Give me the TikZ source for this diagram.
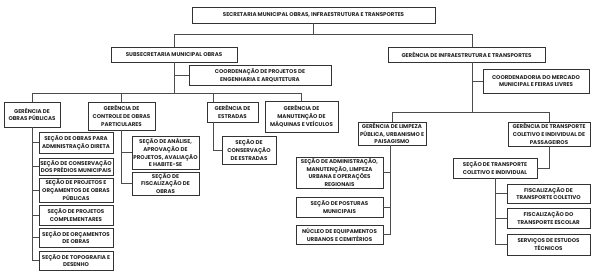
\documentclass[tikz,border=0pt]{standalone}
\usepackage{fontspec}
\setmainfont{Poppins}
\usepackage{xcolor}
\usepackage{tikz}
\usetikzlibrary{shadows}

\begin{document}
\begin{tikzpicture}[
    x=1pt, y=-1pt,
    unit/.style={rectangle, draw=black!80, line width=0.7pt, fill=white, align=center, inner sep=0.3pt,
        font=\fontsize{5.5}{7.8}\selectfont\bfseries, text=black!85,
        drop shadow={shadow xshift=0.6pt, shadow yshift=-0.6pt, fill=black!45, opacity=0.8}},
    link/.style={draw=black!70, line width=0.6pt}
]
\useasboundingbox[fill=white] (0,0) rectangle (605,271);

% secretaria
\node (sec) [unit, minimum width=243, minimum height=16] at (313.5,15) {SECRETARIA MUNICIPAL OBRAS, INFRAESTRUTURA E TRANSPORTES};

% lado esquerdo
\node (subsec) [unit, minimum width=126, minimum height=15] at (174,54.5) {SUBSECRETARIA MUNICIPAL OBRAS};
\node (coordproj) [unit, minimum width=142, minimum height=20] at (260,75) {COORDENAÇÃO DE PROJETOS DE\\ENGENHARIA E ARQUITETURA};
\node (gobras) [unit, minimum width=56, minimum height=25] at (32,114.5) {GERÊNCIA DE\\OBRAS PÚBLICAS};
\node (gcontrole) [unit, minimum width=67, minimum height=28] at (121.5,116) {GERÊNCIA DE\\CONTROLE DE OBRAS\\PARTICULARES};
\node (gestr) [unit, minimum width=51, minimum height=20] at (232.5,112) {GERÊNCIA DE\\ESTRADAS};
\node (gmaq) [unit, minimum width=73, minimum height=31] at (301.5,116.5) {GERÊNCIA DE\\MANUTENÇÃO DE\\MÁQUINAS E VEÍCULOS};

\node (o1) [unit, minimum width=74, minimum height=21] at (76,142.5) {SEÇÃO DE OBRAS PARA\\ADMINISTRAÇÃO DIRETA};
\node (o2) [unit, minimum width=74, minimum height=17] at (76,166.5) {SEÇÃO DE CONSERVAÇÃO\\DOS PRÉDIOS MUNICIPAIS};
\node (o3) [unit, minimum width=74, minimum height=24] at (76,190) {SEÇÃO DE PROJETOS E\\ORÇAMENTOS DE OBRAS\\PÚBLICAS};
\node (o4) [unit, minimum width=74, minimum height=20] at (76,215) {SEÇÃO DE PROJETOS\\COMPLEMENTARES};
\node (o5) [unit, minimum width=74, minimum height=19] at (76,237.5) {SEÇÃO DE ORÇAMENTOS\\DE OBRAS};
\node (o6) [unit, minimum width=74, minimum height=19] at (76,260.5) {SEÇÃO DE TOPOGRAFIA E\\DESENHO};

\node (c1) [unit, minimum width=67, minimum height=33] at (165.5,152.5) {SEÇÃO DE ANÁLISE,\\APROVAÇÃO DE\\PROJETOS, AVALIAÇÃO\\E HABITE-SE};
\node (c2) [unit, minimum width=67, minimum height=23] at (165.5,183.5) {SEÇÃO DE\\FISCALIZAÇÃO DE\\OBRAS};

\node (e1) [unit, minimum width=54, minimum height=28] at (249,150) {SEÇÃO DE\\CONSERVAÇÃO\\DE ESTRADAS};

% lado direito
\node (gerinfra) [unit, minimum width=157, minimum height=15] at (466.5,54.5) {GERÊNCIA DE INFRAESTRUTURA E TRANSPORTES};
\node (coordmerc) [unit, minimum width=106, minimum height=24] at (536,81) {COORDENADORIA DO MERCADO\\MUNICIPAL E FEIRAS LIVRES};
\node (glimp) [unit, minimum width=68, minimum height=23] at (392,133.5) {GERÊNCIA DE LIMPEZA\\PÚBLICA, URBANISMO E\\PAISAGISMO};
\node (gtrans) [unit, minimum width=82, minimum height=24] at (549,134) {GERÊNCIA DE TRANSPORTE\\COLETIVO E INDIVIDUAL DE\\PASSAGEIROS};

\node (l1) [unit, minimum width=87, minimum height=31] at (339.5,172.5) {SEÇÃO DE ADMINISTRAÇÃO,\\MANUTENÇÃO, LIMPEZA\\URBANA E OPERAÇÕES\\REGIONAIS};
\node (l2) [unit, minimum width=87, minimum height=20] at (339.5,207) {SEÇÃO DE POSTURAS\\MUNICIPAIS};
\node (l3) [unit, minimum width=87, minimum height=19] at (339.5,234.5) {NÚCLEO DE EQUIPAMENTOS\\URBANOS E CEMITÉRIOS};

\node (st) [unit, minimum width=84, minimum height=20] at (495,168) {SEÇÃO DE TRANSPORTE\\COLETIVO E INDIVIDUAL};
\node (t1) [unit, minimum width=83, minimum height=19] at (548.5,193.5) {FISCALIZAÇÃO DE\\TRANSPORTE COLETIVO};
\node (t2) [unit, minimum width=83, minimum height=20] at (548.5,218) {FISCALIZAÇÃO DO\\TRANSPORTE ESCOLAR};
\node (t3) [unit, minimum width=83, minimum height=21] at (548.5,244.5) {SERVIÇOS DE ESTUDOS\\TÉCNICOS};

% ligacoes
\draw[link] (sec.south) -- ++(0,11) coordinate (bust) -| (subsec.north);
\draw[link] (bust) -| ([xshift=5.5pt]gerinfra.north);

\draw[link] (subsec.south) -- ++(0,31) coordinate (busl);
\draw[link] (busl) -| (gobras.north);
\draw[link] (busl) -| (gcontrole.north);
\draw[link] (busl) -| ([xshift=7pt]gestr.north west);
\draw[link] (busl) -| (gmaq.north);
\draw[link] (subsec.south |- coordproj.west) -- (coordproj.west);

\foreach \n in {o1,o2,o3,o4,o5,o6}
    \draw[link] (gobras.south) |- (\n.west);
\foreach \n in {c1,c2}
    \draw[link] (gcontrole.south) |- (\n.west);
\draw[link] ([xshift=7pt]gestr.south west) |- (e1.west);

\draw[link] ([xshift=5.5pt]gerinfra.south) -- ++(0,50) coordinate (busr);
\draw[link] (busr) -| (glimp.north);
\draw[link] (busr) -| (gtrans.north);
\draw[link] (busr |- coordmerc.west) -- (coordmerc.west);

\foreach \n in {l1,l2,l3}
    \draw[link] ([xshift=-2pt]glimp.south) |- (\n.east);
\draw[link] (gtrans.south) |- (st.east);
\foreach \n in {t1,t2,t3}
    \draw[link] (st.south) |- (\n.west);
\end{tikzpicture}
\end{document}
